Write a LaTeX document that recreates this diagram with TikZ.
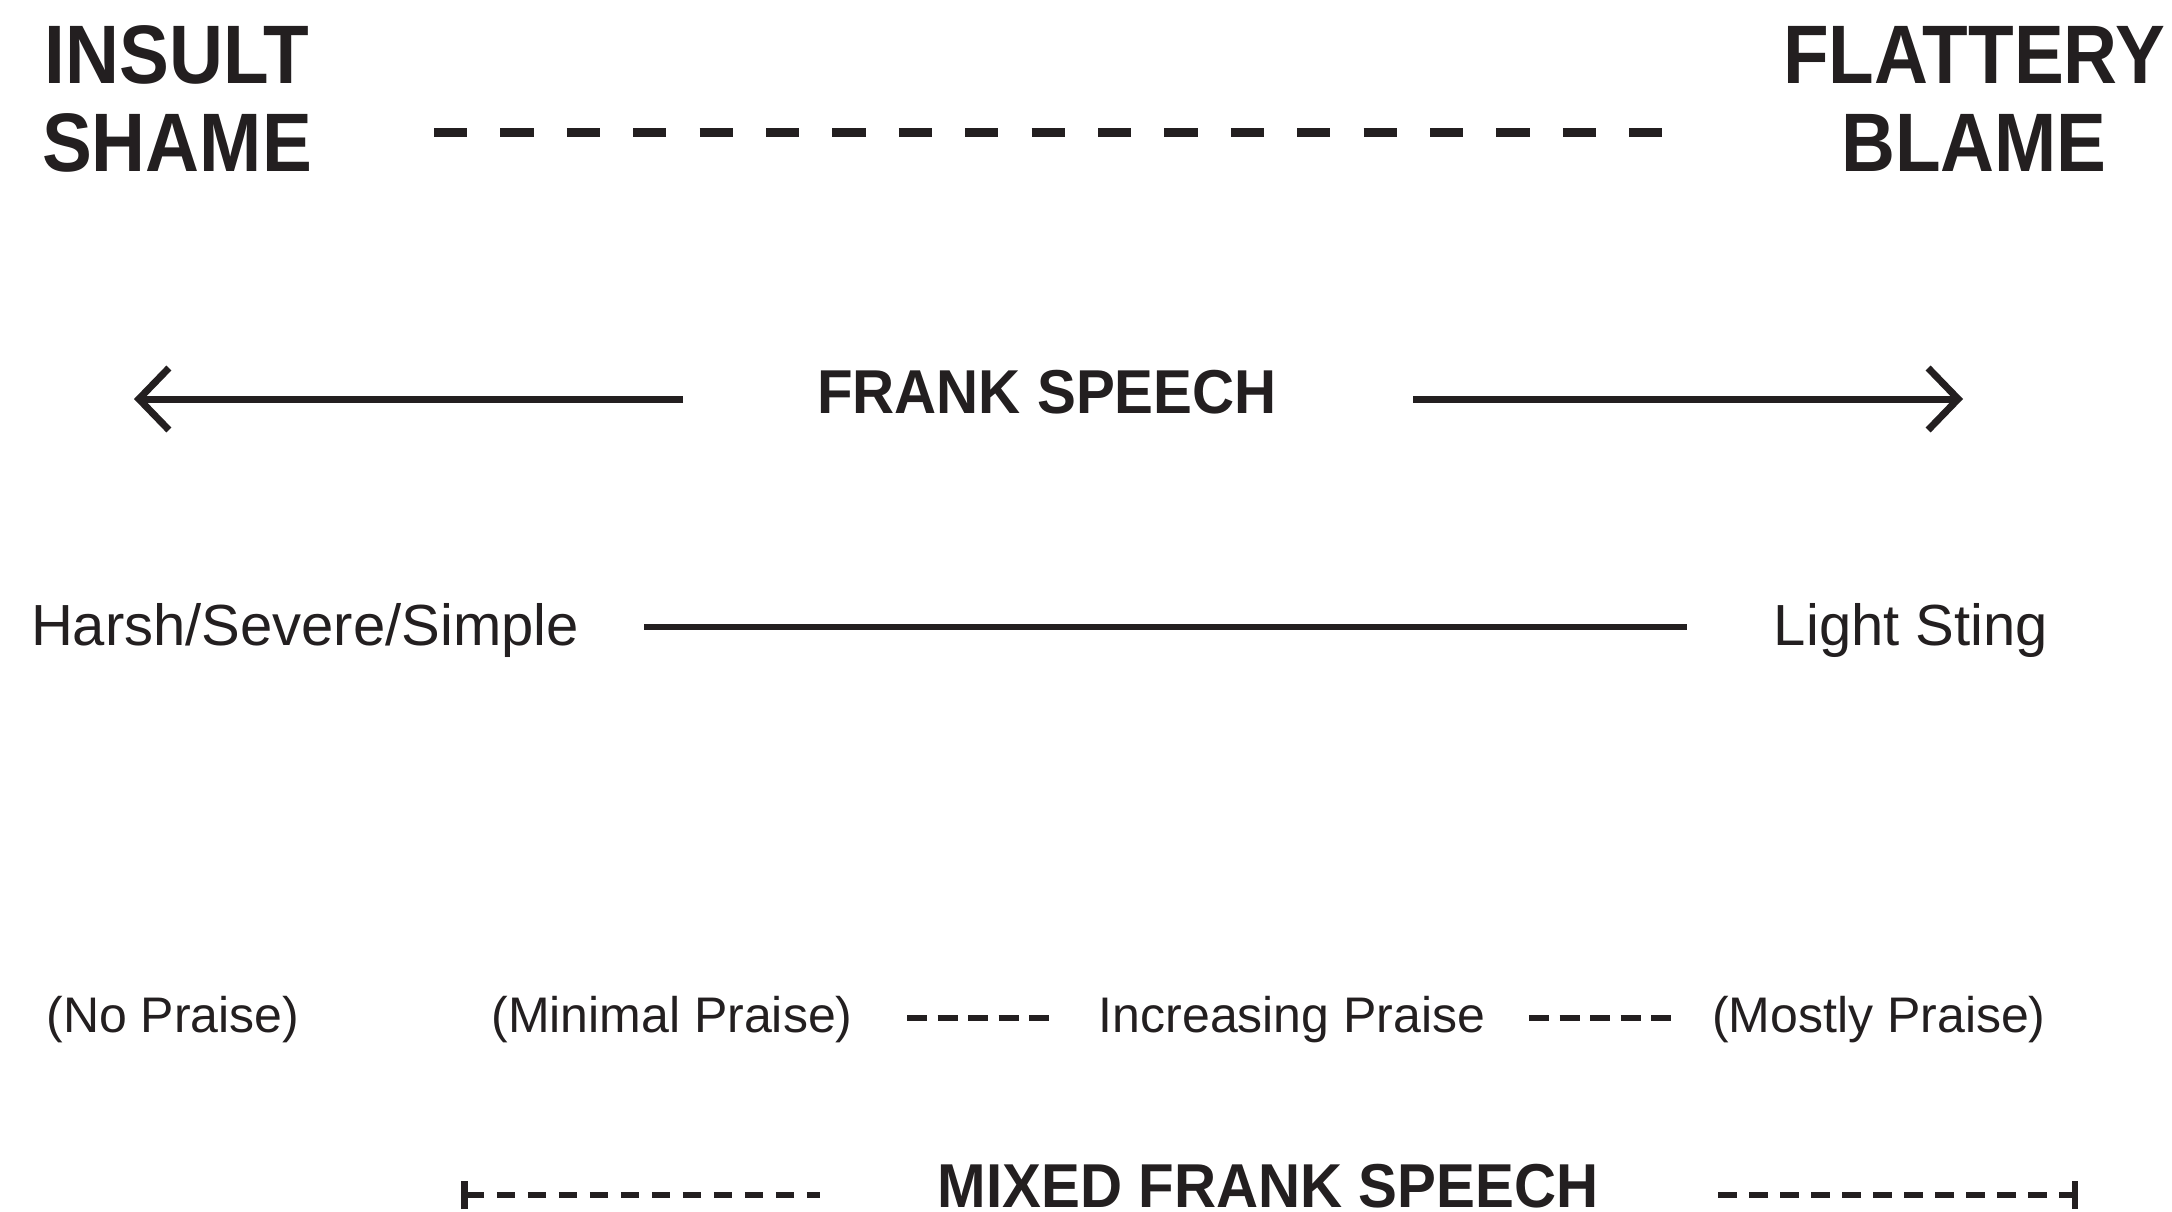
\documentclass[tikz,border=0pt]{standalone}
\usepackage{fontspec}
\setmainfont{Liberation Sans}
\newfontfamily\condfont[FakeStretch=0.9]{Liberation Sans}
\newfontfamily\midfont[FakeStretch=0.94]{Liberation Sans}
\usetikzlibrary{arrows.meta}
\definecolor{ink}{RGB}{35,31,32}
\tikzset{
  bigbold/.style={font=\condfont\bfseries\fontsize{83}{88}\selectfont, align=center, inner sep=0pt, text=ink},
  midbold/.style={font=\midfont\bfseries\fontsize{62}{70}\selectfont, inner sep=0pt, text=ink},
  midreg/.style={font=\fontsize{58}{66}\selectfont, inner sep=0pt, text=ink},
  smallreg/.style={font=\fontsize{50}{58}\selectfont, inner sep=0pt, text=ink},
  topdash/.style={draw=ink, line width=9pt, dash pattern=on 33.2pt off 33.2pt},
  solidline/.style={draw=ink, line width=6.5pt},
  barbarrow/.style={draw=ink, line width=7pt, -{Straight Barb[length=30pt, width=62pt]}},
  praisedash/.style={draw=ink, line width=6pt, dash pattern=on 20pt off 10.5pt},
  mixeddash/.style={draw=ink, line width=6.5pt, dash pattern=on 18.5pt off 12.5pt}
}
\begin{document}
\begin{tikzpicture}[x=1pt, y=-1pt]
\useasboundingbox (0,0) rectangle (2172,1211);
\fill[white] (0,0) rectangle (2172,1211);

% top row
\node[bigbold] (insult) at (177,99) {INSULT\\SHAME};
\node[bigbold] (flattery) at (1974,99) {FLATTERY\\BLAME};
\coordinate (td1) at (434,132);
\coordinate (td2) at (1663,132);
\draw[topdash] (td1) -- (td2);

% frank speech
\node[midbold] (frank) at (1047,392) {FRANK SPEECH};
\coordinate (la) at (683,399);
\coordinate (lt) at (134,399);
\coordinate (ra) at (1413,399);
\coordinate (rt) at (1963,399);
\draw[barbarrow] (la) -- (lt);
\draw[barbarrow] (ra) -- (rt);

% harsh / light sting
\node[midreg] (harsh) at (305,630) {Harsh/Severe/Simple};
\node[midreg] (light) at (1911,630) {Light Sting};
\coordinate (h1) at (644,627);
\coordinate (h2) at (1687,627);
\draw[solidline] (h1) -- (h2);

% praise row
\node[smallreg] (nop) at (173,1020) {(No Praise)};
\node[smallreg] (minp) at (672,1020) {(Minimal Praise)};
\node[smallreg] (incp) at (1292,1020) {Increasing Praise};
\node[smallreg] (mostp) at (1879,1020) {(Mostly Praise)};
\coordinate (p1) at (907,1018);
\coordinate (p2) at (1049,1018);
\coordinate (p3) at (1529,1018);
\coordinate (p4) at (1672,1018);
\draw[praisedash] (p1) -- (p2);
\draw[praisedash] (p3) -- (p4);

% mixed frank speech
\node[midbold] (mixed) at (1268,1186) {MIXED FRANK SPEECH};
\coordinate (m1) at (461,1195);
\coordinate (m2) at (820,1195);
\coordinate (m3) at (1718,1195);
\coordinate (m4) at (2078,1195);
\draw[mixeddash, {Bar[width=28pt]}-] (m1) -- (m2);
\draw[mixeddash, -{Bar[width=28pt]}] (m3) -- (m4);
\end{tikzpicture}
\end{document}
